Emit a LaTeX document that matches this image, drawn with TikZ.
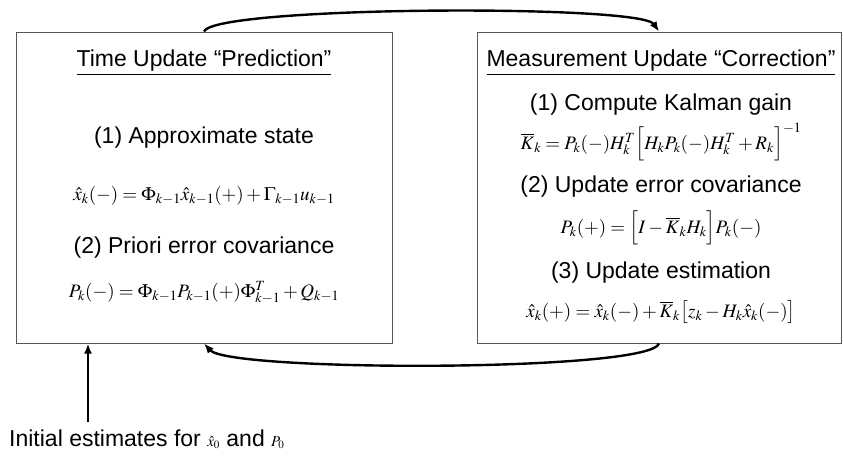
\documentclass[tikz,border=0pt]{standalone}
\usepackage{amsmath}
\usepackage{mathptmx}
\usepackage[no-math]{fontspec}
\setmainfont{Liberation Sans}
\usetikzlibrary{arrows.meta}
\definecolor{rim}{HTML}{555555}
\tikzset{
  panel/.style={draw=rim,line width=1pt,minimum height=311pt,inner sep=0pt},
  head/.style={font=\fontsize{23}{25}\selectfont,inner sep=0pt,anchor=base},
  txt/.style={font=\fontsize{23}{25}\selectfont,inner sep=0pt,anchor=base},
  eqn/.style={font=\fontsize{19}{21}\selectfont,inner sep=0pt,anchor=base},
  flow/.style={line width=2.4pt,-{Latex[length=10pt,width=8pt]}}
}

\begin{document}
\begin{tikzpicture}[x=1pt,y=-1pt]
\useasboundingbox (0,0) rectangle (843,459);
% the two update boxes
\node[panel,minimum width=376pt] (tu) at (204,187.5) {};
\node[panel,minimum width=364pt] (mu) at (659,187.5) {};
% time update
\node[head] (tutitle) at (204,66) {\underline{Time Update ``Prediction''}};
\node[txt] (tu1) at (204,143) {(1) Approximate state};
\node[eqn] (tueq1) at (204,200) {$\hat{x}_k(-)=\Phi_{k-1}\hat{x}_{k-1}(+)+\Gamma_{k-1}u_{k-1}$};
\node[txt] (tu2) at (204,253) {(2) Priori error covariance};
\node[eqn] (tueq2) at (204,297) {$P_k(-)=\Phi_{k-1}P_{k-1}(+)\Phi_{k-1}^T+Q_{k-1}$};
% measurement update
\node[head] (mutitle) at (661,66) {\underline{Measurement Update ``Correction''}};
\node[txt] (mu1) at (661,110) {(1) Compute Kalman gain};
\node[eqn] (mueq1) at (661,149) {$\overline{K}_k=P_k(-)H_k^T\Bigl[H_kP_k(-)H_k^T+R_k\Bigr]^{-1}$};
\node[txt] (mu2) at (661,192) {(2) Update error covariance};
\node[eqn] (mueq2) at (661,233) {$P_k(+)=\Bigl[I-\overline{K}_kH_k\Bigr]P_k(-)$};
\node[txt] (mu3) at (661,278) {(3) Update estimation};
\node[eqn] (mueq3) at (661,317) {$\hat{x}_k(+)=\hat{x}_k(-)+\overline{K}_k\bigl[z_k-H_k\hat{x}_k(-)\bigr]$};
% initial values
\node[head,anchor=base west] (init) at (9,446) {Initial estimates for \fontsize{15}{17}\selectfont$\hat{x}_0$\fontsize{23}{25}\selectfont{} and \fontsize{15}{17}\selectfont$P_0$};
\coordinate (start) at (88,422);
% loop
\draw[flow] (tu.north) .. controls (214,6) and (640,4) .. (mu.north);
\draw[flow] (mu.south) .. controls (650,372) and (230,372) .. (tu.south);
\draw[flow] (start) -- (start |- tu.south);
\end{tikzpicture}
\end{document}
